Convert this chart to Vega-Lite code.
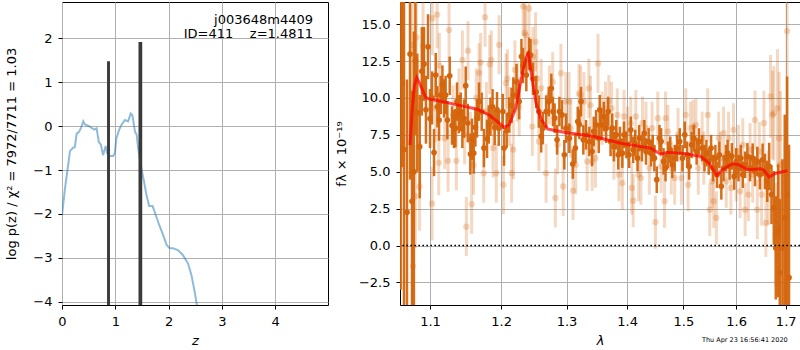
{
  "$schema": "https://vega.github.io/schema/vega-lite/v6.json",
  "padding": {"left": 5, "top": 1, "right": 1, "bottom": 0},
  "spacing": 5,
  "config": {
    "font": "DejaVu Sans",
    "view": {"stroke": "black", "strokeWidth": 1},
    "axis": {
      "grid": true, "gridColor": "#b0b0b0", "gridWidth": 1,
      "domain": false, "tickColor": "black", "tickSize": 4,
      "labelFontSize": 13, "labelColor": "black", "labelPadding": 6,
      "labelFlush": false, "labelOverlap": false,
      "titleFontSize": 13, "titleFontWeight": "normal", "titleColor": "black"
    }
  },
  "datasets": {
    "pz": [
      {"z":0.0,"logp":-2.03},{"z":0.056,"logp":-1.42},{"z":0.106,"logp":-0.97},{"z":0.15,"logp":-0.57},
      {"z":0.21,"logp":-0.49},{"z":0.24,"logp":-0.48},{"z":0.275,"logp":-0.17},{"z":0.32,"logp":-0.13},
      {"z":0.356,"logp":-0.04},{"z":0.40,"logp":0.11},{"z":0.43,"logp":0.04},{"z":0.49,"logp":0.01},
      {"z":0.555,"logp":-0.04},{"z":0.605,"logp":-0.08},{"z":0.65,"logp":-0.05},{"z":0.69,"logp":-0.36},
      {"z":0.73,"logp":-0.42},{"z":0.77,"logp":-0.66},{"z":0.82,"logp":-0.45},{"z":0.85,"logp":-0.62},
      {"z":0.90,"logp":-0.68},{"z":0.96,"logp":-0.68},{"z":0.99,"logp":-0.62},{"z":1.02,"logp":-0.28},
      {"z":1.07,"logp":-0.09},{"z":1.12,"logp":0.04},{"z":1.18,"logp":0.14},{"z":1.24,"logp":0.11},
      {"z":1.29,"logp":0.29},{"z":1.32,"logp":0.25},{"z":1.37,"logp":-0.13},{"z":1.40,"logp":-0.19},
      {"z":1.43,"logp":-0.51},{"z":1.49,"logp":-0.97},{"z":1.54,"logp":-1.27},{"z":1.585,"logp":-1.57},
      {"z":1.635,"logp":-1.82},{"z":1.70,"logp":-1.82},{"z":1.76,"logp":-2.03},{"z":1.82,"logp":-2.24},
      {"z":1.90,"logp":-2.49},{"z":1.96,"logp":-2.70},{"z":2.02,"logp":-2.78},{"z":2.08,"logp":-2.78},
      {"z":2.18,"logp":-2.83},{"z":2.27,"logp":-2.94},{"z":2.365,"logp":-3.13},{"z":2.43,"logp":-3.40},
      {"z":2.49,"logp":-3.78},{"z":2.53,"logp":-4.08},{"z":2.56,"logp":-4.4}
    ],
    "peaks": [
      {"z0":0.845,"z1":0.900,"top":1.48},
      {"z0":1.435,"z1":1.505,"top":1.92}
    ],
    "dark": [
      {"lam":1.0612,"f":7.0,"e":10.0},{"lam":1.0632,"f":11.0,"e":5.7},{"lam":1.0655,"f":6.5,"e":11.0},
      {"lam":1.0694,"f":2.25,"e":9.0},{"lam":1.0734,"f":12.97,"e":8.5},{"lam":1.0760,"f":3.0,"e":7.5},
      {"lam":1.0785,"f":5.0,"e":9.5},{"lam":1.0805,"f":12.5,"e":5.0},{"lam":1.0830,"f":9.0,"e":4.0},
      {"lam":1.0862,"f":6.7,"e":3.5},{"lam":1.0890,"f":11.8,"e":3.0},{"lam":1.0919,"f":12.3,"e":2.5},
      {"lam":1.0945,"f":9.2,"e":2.3},{"lam":1.0973,"f":13.47,"e":2.2},{"lam":1.1000,"f":8.6,"e":2.0},
      {"lam":1.1027,"f":10.0,"e":1.8},{"lam":1.1054,"f":6.3,"e":1.6},{"lam":1.1077,"f":11.55,"e":1.5},
      {"lam":1.1100,"f":9.4,"e":1.4},{"lam":1.1122,"f":8.5,"e":1.4},{"lam":1.1145,"f":10.2,"e":1.3},
      {"lam":1.1168,"f":10.9,"e":1.3},{"lam":1.1190,"f":9.97,"e":1.3},{"lam":1.1212,"f":10.2,"e":1.3},
      {"lam":1.1236,"f":8.5,"e":1.3},{"lam":1.1268,"f":11.5,"e":1.3},{"lam":1.1300,"f":8.13,"e":1.3},
      {"lam":1.1327,"f":7.9,"e":1.3},{"lam":1.1348,"f":7.95,"e":1.3},{"lam":1.1369,"f":9.75,"e":1.3},
      {"lam":1.1395,"f":8.9,"e":1.3},{"lam":1.1421,"f":9.07,"e":1.3},{"lam":1.1444,"f":7.9,"e":1.3},
      {"lam":1.1468,"f":8.6,"e":1.3},{"lam":1.1491,"f":10.83,"e":1.3},{"lam":1.1520,"f":8.3,"e":1.3},
      {"lam":1.1557,"f":6.2,"e":1.4},{"lam":1.1580,"f":7.2,"e":1.4},{"lam":1.1604,"f":6.26,"e":1.4},
      {"lam":1.1628,"f":8.0,"e":1.3},{"lam":1.1651,"f":8.62,"e":1.3},{"lam":1.1680,"f":9.75,"e":1.3},
      {"lam":1.1718,"f":9.07,"e":1.3},{"lam":1.1750,"f":6.6,"e":1.3},{"lam":1.1795,"f":7.23,"e":1.3},
      {"lam":1.1820,"f":8.2,"e":1.3},{"lam":1.1844,"f":8.73,"e":1.3},{"lam":1.1875,"f":9.4,"e":1.2},
      {"lam":1.1906,"f":8.0,"e":1.2},{"lam":1.1940,"f":9.2,"e":1.2},{"lam":1.1965,"f":7.95,"e":1.2},
      {"lam":1.2024,"f":9.08,"e":1.2},{"lam":1.2043,"f":6.6,"e":1.2},{"lam":1.2082,"f":7.8,"e":1.2},
      {"lam":1.2120,"f":8.85,"e":1.2},{"lam":1.2155,"f":9.5,"e":1.2},{"lam":1.2180,"f":10.2,"e":1.2},
      {"lam":1.2228,"f":11.1,"e":1.2},{"lam":1.2268,"f":9.75,"e":1.2},{"lam":1.2302,"f":12.8,"e":1.2},
      {"lam":1.2326,"f":12.2,"e":1.2},{"lam":1.2376,"f":11.55,"e":1.1},{"lam":1.2416,"f":13.0,"e":1.1},
      {"lam":1.2440,"f":12.9,"e":1.1},{"lam":1.2477,"f":11.3,"e":1.1},{"lam":1.2527,"f":10.4,"e":1.1},
      {"lam":1.2567,"f":9.08,"e":1.1},{"lam":1.2603,"f":7.4,"e":1.1},{"lam":1.2628,"f":7.95,"e":1.1},
      {"lam":1.2680,"f":9.08,"e":1.1},{"lam":1.2720,"f":9.75,"e":1.0},{"lam":1.2760,"f":10.65,"e":1.0},
      {"lam":1.2786,"f":9.08,"e":1.0},{"lam":1.2812,"f":8.63,"e":1.0},{"lam":1.2850,"f":7.16,"e":1.0},
      {"lam":1.2887,"f":9.08,"e":1.0},{"lam":1.2928,"f":8.85,"e":1.0},{"lam":1.2965,"f":6.15,"e":1.0},
      {"lam":1.2992,"f":7.95,"e":1.0},{"lam":1.3045,"f":7.27,"e":1.0},{"lam":1.3100,"f":5.52,"e":1.0},
      {"lam":1.3142,"f":6.6,"e":1.0},{"lam":1.3180,"f":8.4,"e":1.0},{"lam":1.3206,"f":8.2,"e":1.0},
      {"lam":1.3233,"f":9.75,"e":1.0},{"lam":1.3270,"f":7.16,"e":1.0},{"lam":1.3314,"f":7.5,"e":1.0},
      {"lam":1.3368,"f":7.05,"e":1.0},{"lam":1.3412,"f":6.37,"e":1.0},{"lam":1.3440,"f":7.73,"e":1.0},
      {"lam":1.3479,"f":8.18,"e":1.0},{"lam":1.3523,"f":7.27,"e":1.0},{"lam":1.3539,"f":9.2,"e":1.0},
      {"lam":1.3567,"f":8.18,"e":1.0},{"lam":1.3607,"f":8.74,"e":1.0},{"lam":1.3646,"f":7.95,"e":1.0},
      {"lam":1.3680,"f":9.08,"e":1.0},{"lam":1.3720,"f":7.05,"e":1.0},{"lam":1.3748,"f":7.95,"e":1.0},
      {"lam":1.3776,"f":6.7,"e":1.0},{"lam":1.3816,"f":7.5,"e":1.0},{"lam":1.3850,"f":6.15,"e":1.0},
      {"lam":1.3879,"f":7.05,"e":1.0},{"lam":1.3919,"f":6.26,"e":1.0},{"lam":1.3948,"f":7.5,"e":0.9},
      {"lam":1.3988,"f":6.82,"e":0.9},{"lam":1.4035,"f":6.15,"e":0.9},{"lam":1.4064,"f":7.84,"e":0.9},
      {"lam":1.4105,"f":6.49,"e":0.9},{"lam":1.4139,"f":6.94,"e":0.9},{"lam":1.4180,"f":5.92,"e":0.9},
      {"lam":1.4210,"f":7.27,"e":0.9},{"lam":1.4257,"f":6.6,"e":0.9},{"lam":1.4298,"f":7.61,"e":0.9},
      {"lam":1.4328,"f":6.37,"e":0.9},{"lam":1.4375,"f":7.05,"e":0.9},{"lam":1.4417,"f":6.26,"e":0.9},
      {"lam":1.4447,"f":6.6,"e":0.9},{"lam":1.4476,"f":5.92,"e":0.9},{"lam":1.4518,"f":4.46,"e":0.9},
      {"lam":1.4566,"f":7.27,"e":0.9},{"lam":1.4596,"f":7.05,"e":0.9},{"lam":1.4639,"f":5.7,"e":0.9},
      {"lam":1.4675,"f":5.25,"e":0.9},{"lam":1.4718,"f":6.15,"e":0.9},{"lam":1.4760,"f":6.49,"e":0.9},
      {"lam":1.4797,"f":5.47,"e":0.9},{"lam":1.4840,"f":5.92,"e":0.9},{"lam":1.4883,"f":6.6,"e":0.9},
      {"lam":1.4932,"f":7.05,"e":0.9},{"lam":1.4982,"f":5.92,"e":0.9},{"lam":1.5024,"f":7.5,"e":0.9},
      {"lam":1.5068,"f":6.15,"e":0.9},{"lam":1.5105,"f":5.36,"e":0.9},{"lam":1.5149,"f":6.82,"e":0.9},
      {"lam":1.5193,"f":7.27,"e":0.9},{"lam":1.5244,"f":6.37,"e":0.9},{"lam":1.5288,"f":7.05,"e":0.9},
      {"lam":1.5348,"f":6.6,"e":0.9},{"lam":1.5391,"f":5.92,"e":0.9},{"lam":1.5428,"f":6.26,"e":0.9},
      {"lam":1.5472,"f":5.7,"e":0.9},{"lam":1.5516,"f":6.6,"e":0.9},{"lam":1.5554,"f":5.25,"e":0.9},
      {"lam":1.5598,"f":5.92,"e":0.9},{"lam":1.5629,"f":4.8,"e":0.9},{"lam":1.5674,"f":6.15,"e":0.9},
      {"lam":1.5712,"f":4.01,"e":0.9},{"lam":1.5756,"f":5.25,"e":0.9},{"lam":1.5801,"f":5.92,"e":0.9},
      {"lam":1.5833,"f":6.26,"e":0.9},{"lam":1.5871,"f":5.36,"e":0.9},{"lam":1.5916,"f":6.04,"e":0.9},
      {"lam":1.5961,"f":4.68,"e":0.9},{"lam":1.6000,"f":5.7,"e":0.9},{"lam":1.6045,"f":5.25,"e":0.9},
      {"lam":1.6091,"f":5.92,"e":0.9},{"lam":1.6130,"f":4.8,"e":0.9},{"lam":1.6176,"f":5.47,"e":0.9},
      {"lam":1.6221,"f":6.04,"e":0.9},{"lam":1.6274,"f":5.25,"e":0.9},{"lam":1.6327,"f":5.92,"e":1.0},
      {"lam":1.6373,"f":5.02,"e":1.0},{"lam":1.6419,"f":5.7,"e":1.0},{"lam":1.6472,"f":4.8,"e":1.0},
      {"lam":1.6526,"f":5.81,"e":1.1},{"lam":1.6573,"f":5.02,"e":1.2},{"lam":1.6620,"f":4.35,"e":1.4},
      {"lam":1.6660,"f":5.36,"e":1.6},{"lam":1.6707,"f":3.45,"e":2.0},{"lam":1.6754,"f":2.55,"e":2.5},
      {"lam":1.6795,"f":-0.16,"e":3.5},{"lam":1.6843,"f":1.0,"e":4.5},{"lam":1.6877,"f":-1.85,"e":5.0},
      {"lam":1.6932,"f":-0.16,"e":6.0},{"lam":1.6980,"f":1.87,"e":7.0},{"lam":1.7028,"f":3.45,"e":8.0},
      {"lam":1.7069,"f":-2.18,"e":9.0}
    ],
    "light": [
      {"lam":1.0765,"f":13.6,"e":4.0},{"lam":1.0772,"f":-1.4,"e":4.0},{"lam":1.0804,"f":3.33,"e":3.5},
      {"lam":1.0817,"f":14.1,"e":3.5},{"lam":1.0860,"f":4.0,"e":3.0},{"lam":1.0906,"f":13.5,"e":3.0},
      {"lam":1.1027,"f":2.84,"e":2.5},{"lam":1.1031,"f":15.4,"e":2.5},{"lam":1.1074,"f":9.3,"e":2.3},
      {"lam":1.1096,"f":15.65,"e":2.3},{"lam":1.1118,"f":5.6,"e":2.2},{"lam":1.1126,"f":12.2,"e":2.2},
      {"lam":1.1199,"f":7.27,"e":2.1},{"lam":1.1245,"f":5.74,"e":2.1},{"lam":1.1259,"f":14.6,"e":2.1},
      {"lam":1.1314,"f":8.85,"e":2.0},{"lam":1.1360,"f":5.74,"e":2.0},{"lam":1.1397,"f":10.0,"e":2.0},
      {"lam":1.1444,"f":12.57,"e":2.0},{"lam":1.1476,"f":7.5,"e":2.0},{"lam":1.1500,"f":1.28,"e":2.0},
      {"lam":1.1523,"f":13.2,"e":2.0},{"lam":1.1556,"f":7.05,"e":2.0},{"lam":1.1575,"f":2.8,"e":2.0},
      {"lam":1.1603,"f":5.45,"e":2.0},{"lam":1.1641,"f":10.0,"e":2.0},{"lam":1.1680,"f":11.7,"e":2.0},
      {"lam":1.1703,"f":12.4,"e":2.0},{"lam":1.1747,"f":4.9,"e":2.0},{"lam":1.1766,"f":15.47,"e":2.0},
      {"lam":1.1786,"f":9.08,"e":2.0},{"lam":1.1833,"f":12.27,"e":2.0},{"lam":1.1857,"f":12.57,"e":2.0},
      {"lam":1.1882,"f":6.6,"e":2.0},{"lam":1.1930,"f":4.9,"e":2.0},{"lam":1.1970,"f":13.6,"e":2.0},
      {"lam":1.2034,"f":4.12,"e":2.0},{"lam":1.2073,"f":11.0,"e":2.0},{"lam":1.2092,"f":11.3,"e":2.0},
      {"lam":1.2121,"f":8.74,"e":2.0},{"lam":1.2155,"f":4.9,"e":2.0},{"lam":1.2180,"f":6.5,"e":2.0},
      {"lam":1.2204,"f":11.9,"e":2.0},{"lam":1.2239,"f":10.4,"e":2.0},{"lam":1.2268,"f":9.4,"e":2.0},
      {"lam":1.2328,"f":16.2,"e":2.0},{"lam":1.2352,"f":14.4,"e":2.0},{"lam":1.2367,"f":14.26,"e":2.0},
      {"lam":1.2417,"f":16.06,"e":2.0},{"lam":1.2467,"f":8.06,"e":2.0},{"lam":1.2477,"f":12.8,"e":2.0},
      {"lam":1.2517,"f":13.8,"e":2.0},{"lam":1.2538,"f":11.3,"e":2.0},{"lam":1.2568,"f":7.05,"e":2.0},
      {"lam":1.2603,"f":10.65,"e":2.0},{"lam":1.2679,"f":4.9,"e":2.0},{"lam":1.2730,"f":10.2,"e":2.0},
      {"lam":1.2782,"f":11.1,"e":2.0},{"lam":1.2823,"f":3.22,"e":2.0},{"lam":1.2859,"f":6.82,"e":2.0},
      {"lam":1.2911,"f":11.67,"e":2.0},{"lam":1.2947,"f":4.0,"e":2.0},{"lam":1.2989,"f":9.75,"e":2.0},
      {"lam":1.3041,"f":9.75,"e":2.0},{"lam":1.3068,"f":7.95,"e":2.0},{"lam":1.3104,"f":3.72,"e":2.0},
      {"lam":1.3147,"f":5.47,"e":2.0},{"lam":1.3200,"f":10.3,"e":2.0},{"lam":1.3226,"f":10.2,"e":2.0},
      {"lam":1.3280,"f":9.75,"e":2.0},{"lam":1.3333,"f":5.7,"e":2.0},{"lam":1.3360,"f":10.65,"e":2.0},
      {"lam":1.3387,"f":9.5,"e":2.0},{"lam":1.3414,"f":5.7,"e":2.0},{"lam":1.3468,"f":5.92,"e":2.0},
      {"lam":1.3511,"f":12.34,"e":2.0},{"lam":1.3579,"f":8.63,"e":1.8},{"lam":1.3635,"f":9.3,"e":1.8},
      {"lam":1.3691,"f":9.75,"e":1.8},{"lam":1.3737,"f":9.3,"e":1.8},{"lam":1.3776,"f":6.26,"e":1.8},
      {"lam":1.3833,"f":8.85,"e":1.8},{"lam":1.3862,"f":4.8,"e":1.8},{"lam":1.3919,"f":4.23,"e":1.8},
      {"lam":1.3948,"f":8.74,"e":1.8},{"lam":1.4006,"f":7.61,"e":1.8},{"lam":1.4064,"f":8.29,"e":1.8},
      {"lam":1.4081,"f":3.9,"e":1.8},{"lam":1.4105,"f":3.04,"e":1.8},{"lam":1.4151,"f":8.74,"e":1.8},
      {"lam":1.4198,"f":4.8,"e":1.8},{"lam":1.4239,"f":4.57,"e":1.8},{"lam":1.4268,"f":8.29,"e":1.8},
      {"lam":1.4328,"f":7.95,"e":1.8},{"lam":1.4387,"f":5.25,"e":1.8},{"lam":1.4435,"f":7.95,"e":1.8},
      {"lam":1.4494,"f":1.58,"e":1.8},{"lam":1.4536,"f":8.63,"e":1.8},{"lam":1.4596,"f":5.36,"e":1.8},
      {"lam":1.4657,"f":3.0,"e":1.8},{"lam":1.4675,"f":8.63,"e":1.8},{"lam":1.4718,"f":7.73,"e":1.8},
      {"lam":1.4779,"f":5.25,"e":1.8},{"lam":1.4840,"f":4.57,"e":1.8},{"lam":1.4901,"f":7.5,"e":1.8},
      {"lam":1.4963,"f":4.57,"e":1.8},{"lam":1.5043,"f":8.85,"e":1.8},{"lam":1.5087,"f":4.12,"e":1.8},
      {"lam":1.5131,"f":7.95,"e":1.8},{"lam":1.5181,"f":8.06,"e":1.8},{"lam":1.5231,"f":8.18,"e":1.8},
      {"lam":1.5275,"f":5.25,"e":1.8},{"lam":1.5348,"f":7.27,"e":1.8},{"lam":1.5379,"f":5.92,"e":1.8},
      {"lam":1.5453,"f":8.85,"e":1.8},{"lam":1.5491,"f":2.43,"e":1.8},{"lam":1.5535,"f":4.35,"e":1.8},
      {"lam":1.5566,"f":3.0,"e":1.8},{"lam":1.5617,"f":1.87,"e":1.8},{"lam":1.5661,"f":7.27,"e":1.8},
      {"lam":1.5693,"f":5.92,"e":1.8},{"lam":1.5756,"f":7.61,"e":1.8},{"lam":1.5807,"f":4.35,"e":1.8},
      {"lam":1.5852,"f":7.27,"e":1.8},{"lam":1.5897,"f":3.9,"e":1.8},{"lam":1.5948,"f":7.84,"e":1.8},
      {"lam":1.6000,"f":4.8,"e":1.8},{"lam":1.6045,"f":6.37,"e":1.8},{"lam":1.6078,"f":3.67,"e":1.8},
      {"lam":1.6130,"f":6.82,"e":1.8},{"lam":1.6176,"f":2.43,"e":1.8},{"lam":1.6241,"f":3.45,"e":1.8},
      {"lam":1.6274,"f":6.49,"e":1.8},{"lam":1.6327,"f":4.8,"e":1.9},{"lam":1.6373,"f":8.51,"e":2.0},
      {"lam":1.6419,"f":2.43,"e":2.0},{"lam":1.6459,"f":6.37,"e":2.0},{"lam":1.6506,"f":3.45,"e":2.1},
      {"lam":1.6553,"f":8.29,"e":2.2},{"lam":1.6593,"f":1.53,"e":2.3},{"lam":1.6640,"f":3.9,"e":2.5},
      {"lam":1.6687,"f":10.1,"e":2.8},{"lam":1.6727,"f":8.85,"e":3.0},{"lam":1.6754,"f":8.96,"e":3.2},
      {"lam":1.6795,"f":0.74,"e":3.5},{"lam":1.6829,"f":9.3,"e":4.0},{"lam":1.6863,"f":7.27,"e":4.5},
      {"lam":1.6890,"f":5.47,"e":5.0},{"lam":1.6945,"f":-0.16,"e":6.0},{"lam":1.6987,"f":0.29,"e":7.0},
      {"lam":1.7028,"f":14.53,"e":8.0}
    ],
    "model": [
      {"lam":1.0734,"f":6.8},{"lam":1.0760,"f":9.0},{"lam":1.0790,"f":10.8},{"lam":1.0822,"f":11.37},
      {"lam":1.0860,"f":11.0},{"lam":1.0898,"f":10.54},{"lam":1.0942,"f":10.04},{"lam":1.1000,"f":9.9},
      {"lam":1.1100,"f":9.82},{"lam":1.1375,"f":9.53},{"lam":1.1657,"f":9.23},{"lam":1.1823,"f":8.85},
      {"lam":1.1946,"f":8.4},{"lam":1.2043,"f":8.0},{"lam":1.2117,"f":8.17},{"lam":1.2216,"f":9.3},
      {"lam":1.2291,"f":11.1},{"lam":1.2367,"f":12.68},{"lam":1.2407,"f":13.0},{"lam":1.2442,"f":12.0},
      {"lam":1.2519,"f":9.75},{"lam":1.2596,"f":8.62},{"lam":1.2700,"f":7.9},{"lam":1.2960,"f":7.68},
      {"lam":1.3445,"f":7.39},{"lam":1.3890,"f":6.93},{"lam":1.4410,"f":6.6},{"lam":1.4588,"f":6.19},
      {"lam":1.4707,"f":6.32},{"lam":1.5010,"f":6.24},{"lam":1.5320,"f":6.03},{"lam":1.5477,"f":5.58},
      {"lam":1.5624,"f":4.75},{"lam":1.5733,"f":5.13},{"lam":1.5927,"f":5.54},{"lam":1.6056,"f":5.47},
      {"lam":1.6222,"f":5.13},{"lam":1.6488,"f":5.2},{"lam":1.6550,"f":5.1},{"lam":1.6657,"f":4.64},
      {"lam":1.6794,"f":4.9},{"lam":1.7035,"f":5.07}
    ]
  },
  "hconcat": [
    {
      "width": 266,
      "height": 303,
      "layer": [
        {
          "data": {"name": "pz"},
          "mark": {"type": "line", "color": "#1f77b4", "opacity": 0.5, "strokeWidth": 2, "clip": true},
          "encoding": {
            "x": {"field": "z", "type": "quantitative", "title": "z",
                  "scale": {"domain": [0, 4.99], "nice": false, "zero": false},
                  "axis": {"values": [0, 1, 2, 3, 4], "titleFontStyle": "italic", "titlePadding": 6}},
            "y": {"field": "logp", "type": "quantitative", "title": "log p(z) / χ² = 7972/7711 = 1.03",
                  "scale": {"domain": [-4.075, 2.83], "nice": false, "zero": false},
                  "axis": {"values": [-4, -3, -2, -1, 0, 1, 2], "titlePadding": 14}}
          }
        },
        {
          "data": {"name": "peaks"},
          "mark": {"type": "rect", "color": "#3a3a3a", "clip": true},
          "encoding": {
            "x": {"field": "z0", "type": "quantitative", "title": "z"},
            "x2": {"field": "z1"},
            "y": {"field": "top", "type": "quantitative", "title": "log p(z) / χ² = 7972/7711 = 1.03"},
            "y2": {"datum": -4.5}
          }
        },
        {
          "data": {"values": [{"label": "j003648m4409"}]},
          "mark": {"type": "text", "align": "right", "baseline": "alphabetic", "fontSize": 13, "color": "black"},
          "encoding": {
            "x": {"datum": 4.71},
            "y": {"datum": 2.326},
            "text": {"field": "label"}
          }
        },
        {
          "data": {"values": [{"label": "ID=411\u00a0\u00a0\u00a0\u00a0z=1.4811"}]},
          "mark": {"type": "text", "align": "right", "baseline": "alphabetic", "fontSize": 13, "color": "black"},
          "encoding": {
            "x": {"datum": 4.71},
            "y": {"datum": 2.014},
            "text": {"field": "label"}
          }
        }
      ]
    },
    {
      "width": 400,
      "height": 303,
      "layer": [
        {
          "data": {"name": "light"},
          "mark": {"type": "errorbar", "color": "#d4650c", "opacity": 0.25, "thickness": 3, "clip": true},
          "encoding": {
            "x": {"field": "lam", "type": "quantitative", "title": "λ",
                  "scale": {"type": "log", "domain": [1.0603, 1.73], "nice": false},
                  "axis": {"values": [1.1, 1.2, 1.3, 1.4, 1.5, 1.6, 1.7], "format": ".1f", "titleFontStyle": "italic", "titlePadding": 6}},
            "y": {"field": "f", "type": "quantitative", "title": "fλ × 10⁻¹⁹",
                  "scale": {"domain": [-4.03, 16.5], "nice": false, "zero": false},
                  "axis": {"values": [-2.5, 0, 2.5, 5, 7.5, 10, 12.5, 15], "format": ".1f", "titlePadding": 10}},
            "yError": {"field": "e"}
          }
        },
        {
          "data": {"name": "light"},
          "mark": {"type": "point", "filled": true, "color": "#d4650c", "opacity": 0.25, "size": 40, "clip": true},
          "encoding": {
            "x": {"field": "lam", "type": "quantitative", "title": "λ"},
            "y": {"field": "f", "type": "quantitative", "title": "fλ × 10⁻¹⁹"}
          }
        },
        {
          "data": {"name": "dark"},
          "mark": {"type": "errorbar", "color": "#d4650c", "opacity": 0.95, "thickness": 2.5, "clip": true},
          "encoding": {
            "x": {"field": "lam", "type": "quantitative", "title": "λ"},
            "y": {"field": "f", "type": "quantitative", "title": "fλ × 10⁻¹⁹"},
            "yError": {"field": "e"}
          }
        },
        {
          "data": {"name": "dark"},
          "mark": {"type": "point", "filled": true, "color": "#d4650c", "opacity": 1, "size": 32, "clip": true},
          "encoding": {
            "x": {"field": "lam", "type": "quantitative", "title": "λ"},
            "y": {"field": "f", "type": "quantitative", "title": "fλ × 10⁻¹⁹"}
          }
        },
        {
          "data": {"name": "model"},
          "mark": {"type": "line", "color": "#ff0000", "opacity": 0.7, "strokeWidth": 3, "clip": true},
          "encoding": {
            "x": {"field": "lam", "type": "quantitative", "title": "λ"},
            "y": {"field": "f", "type": "quantitative", "title": "fλ × 10⁻¹⁹"}
          }
        },
        {
          "data": {"values": [{"level": 0}]},
          "mark": {"type": "rule", "stroke": "black", "strokeWidth": 1.6, "strokeDash": [1.6, 2.4]},
          "encoding": {
            "y": {"field": "level", "type": "quantitative", "title": "fλ × 10⁻¹⁹"}
          }
        },
        {
          "data": {"values": [{"label": "Thu Apr 23 16:56:41 2020"}]},
          "mark": {"type": "text", "align": "right", "baseline": "alphabetic", "fontSize": 6.5, "color": "black"},
          "encoding": {
            "x": {"datum": 1.7041, "type": "quantitative"},
            "y": {"datum": -6.57, "type": "quantitative"},
            "text": {"field": "label"}
          }
        }
      ]
    }
  ]
}
